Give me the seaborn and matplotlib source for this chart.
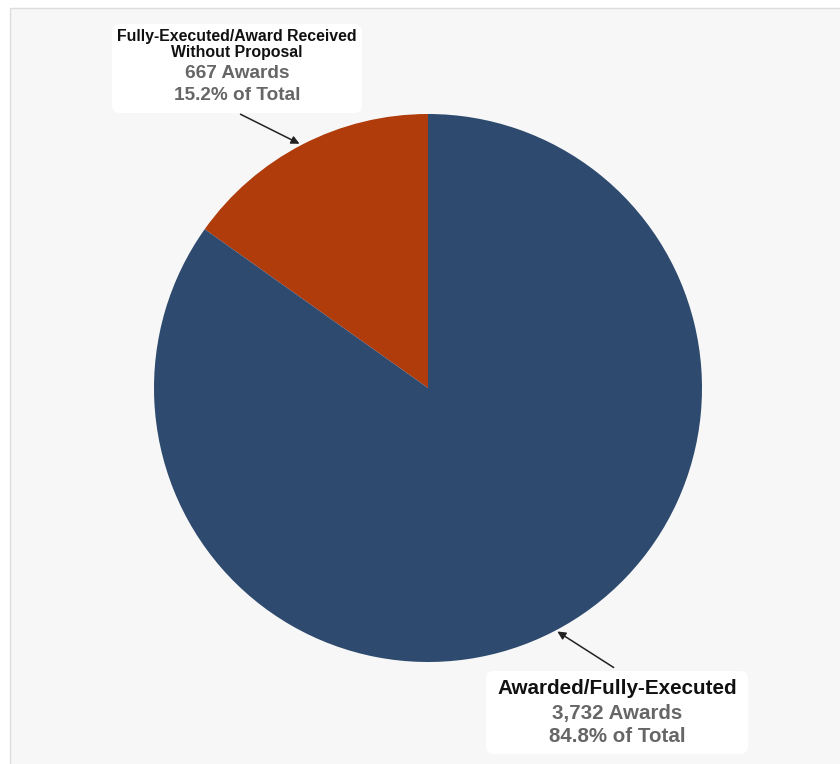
import matplotlib
matplotlib.use("Agg")
import matplotlib.pyplot as plt
from matplotlib.patches import FancyBboxPatch, Rectangle
import seaborn as sns

categories = ["Fully-Executed/Award Received", "Without Proposal", "Awarded/Fully-Executed"]
awards = [667, 3732]
count_labels = ["667 Awards", "3,732 Awards"]
pct_labels = ["15.2% of Total", "84.8% of Total"]
colors = ["#B03B0B", "#2E4A6F"]

sns.set_theme(style="white")
plt.rcParams['font.family'] = ['Liberation Sans', 'DejaVu Sans']

W, H = 840, 764
fig = plt.figure(figsize=(W / 100, H / 100), dpi=100, facecolor="white")
ax = fig.add_axes([0, 0, 1, 1])

def Y(y):
    return H - y

# panel background
ax.add_patch(Rectangle((10, -5), 840, Y(8) + 5, facecolor="#F7F7F7",
                       edgecolor="#DDDDDD", linewidth=1, zorder=0))

ax.pie(awards, colors=colors, startangle=90, counterclock=True,
       center=(428, Y(388)), radius=274, frame=True,
       wedgeprops=dict(linewidth=0))
ax.set_xlim(0, W)
ax.set_ylim(0, H)
ax.set_aspect("equal")
ax.axis("off")

def box(x0, y0, x1, y1):
    ax.add_patch(FancyBboxPatch((x0 + 8, Y(y1) + 8), (x1 - x0) - 16, (y1 - y0) - 16,
                                boxstyle="round,pad=8", facecolor="white",
                                edgecolor="none", zorder=3))

# top label
box(112, 24, 362, 113)
ax.text(237, Y(37), categories[0], ha="center", va="center", fontsize=11.4,
        fontweight="bold", color="#111111", zorder=4)
ax.text(237, Y(53), categories[1], ha="center", va="center", fontsize=11.4,
        fontweight="bold", color="#111111", zorder=4)
ax.text(237, Y(73), count_labels[0], ha="center", va="center", fontsize=13.7,
        fontweight="bold", color="#666666", zorder=4)
ax.text(237, Y(95), pct_labels[0], ha="center", va="center", fontsize=13.7,
        fontweight="bold", color="#666666", zorder=4)
ax.annotate("", xy=(302, Y(145)), xytext=(238, Y(113)),
            arrowprops=dict(arrowstyle="-|>", color="#222222", lw=1.1,
                            mutation_scale=12), zorder=4)

# bottom label
box(486, 671, 748, 754)
ax.text(617, Y(688), categories[2], ha="center", va="center", fontsize=14.9,
        fontweight="bold", color="#111111", zorder=4)
ax.text(617, Y(713), count_labels[1], ha="center", va="center", fontsize=14.8,
        fontweight="bold", color="#666666", zorder=4)
ax.text(617, Y(737), pct_labels[1], ha="center", va="center", fontsize=14.8,
        fontweight="bold", color="#666666", zorder=4)
ax.annotate("", xy=(555, Y(630)), xytext=(616, Y(669)),
            arrowprops=dict(arrowstyle="-|>", color="#222222", lw=1.1,
                            mutation_scale=12), zorder=4)

fig.savefig("out.png", dpi=100, facecolor="white")
